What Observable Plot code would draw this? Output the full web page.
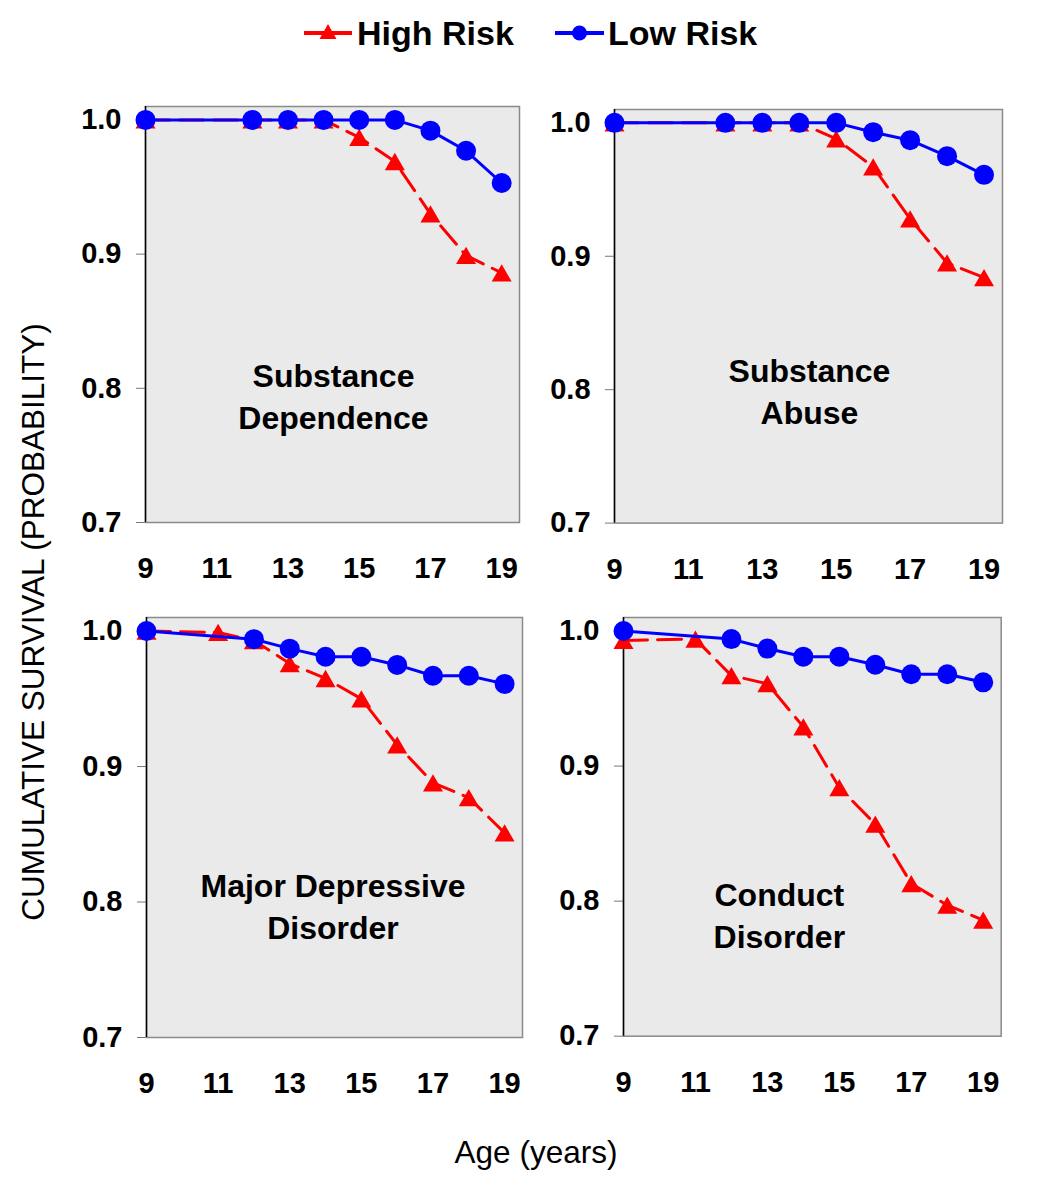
<!DOCTYPE html>
<html><head><meta charset="utf-8">
<script src="https://cdn.jsdelivr.net/npm/d3@7"></script>
<script src="https://cdn.jsdelivr.net/npm/@observablehq/plot@0.6"></script>
<style>
body{margin:0;background:#fff;}
#root{position:relative;width:1050px;height:1177px;font-family:"Liberation Sans",Arial,sans-serif;overflow:hidden;}
.abs{position:absolute;white-space:nowrap;}
</style></head><body><div id="root"></div>
<script>
// ---- data ----
const xTicks = [9, 11, 13, 15, 17, 19];
const yTicks = [0.7, 0.8, 0.9, 1.0];
const seriesNames = ["High Risk", "Low Risk"];
const panelTitles = ["Substance\nDependence", "Substance\nAbuse", "Major Depressive\nDisorder", "Conduct\nDisorder"];
const yAxisTitle = "CUMULATIVE SURVIVAL (PROBABILITY)";
const xAxisTitle = "Age (years)";

// Substance Dependence
const sdAgesHigh = [9, 12, 13, 14, 15, 16, 17, 18, 19];
const sdHigh     = [1.0, 1.0, 1.0, 1.0, 0.987, 0.969, 0.930, 0.899, 0.886];
const sdAgesLow  = [9, 12, 13, 14, 15, 16, 17, 18, 19];
const sdLow      = [1.0, 1.0, 1.0, 1.0, 1.0, 1.0, 0.992, 0.977, 0.953];
// Substance Abuse
const saAgesHigh = [9, 12, 13, 14, 15, 16, 17, 18, 19];
const saHigh     = [1.0, 1.0, 1.0, 1.0, 0.988, 0.967, 0.928, 0.895, 0.884];
const saAgesLow  = [9, 12, 13, 14, 15, 16, 17, 18, 19];
const saLow      = [1.0, 1.0, 1.0, 1.0, 1.0, 0.993, 0.987, 0.975, 0.961];
// Major Depressive Disorder
const mdAgesHigh = [9, 11, 12, 13, 14, 15, 16, 17, 18, 19];
const mdHigh     = [1.0, 0.999, 0.993, 0.976, 0.965, 0.950, 0.916, 0.888, 0.877, 0.851];
const mdAgesLow  = [9, 12, 13, 14, 15, 16, 17, 18, 19];
const mdLow      = [1.0, 0.994, 0.987, 0.981, 0.981, 0.975, 0.967, 0.967, 0.961];
// Conduct Disorder
const cdAgesHigh = [9, 11, 12, 13, 14, 15, 16, 17, 18, 19];
const cdHigh     = [0.993, 0.994, 0.967, 0.961, 0.929, 0.884, 0.857, 0.813, 0.797, 0.786];
const cdAgesLow  = [9, 12, 13, 14, 15, 16, 17, 18, 19];
const cdLow      = [1.0, 0.994, 0.987, 0.981, 0.981, 0.975, 0.968, 0.968, 0.962];

const highAges = [sdAgesHigh, saAgesHigh, mdAgesHigh, cdAgesHigh];
const highVals = [sdHigh, saHigh, mdHigh, cdHigh];
const lowAges  = [sdAgesLow, saAgesLow, mdAgesLow, cdAgesLow];
const lowVals  = [sdLow, saLow, mdLow, cdLow];

// ---- layout ----
const frames = [
  {l: 145, t: 106, r: 519, b: 522},
  {l: 614, t: 108.7, r: 1002, b: 522.3},
  {l: 145.7, t: 617.3, r: 521.7, b: 1037.3},
  {l: 623.3, t: 617.3, r: 1001, b: 1036}
];
const titleOffsets = [{dx: 1, dy: 80.5}, {dx: 1, dy: 73.5}, {dx: -1.5, dy: 77.5}, {dx: -33, dy: 86.5}];
const RED = "#ff0000", BLUE = "#0000ff";
const FONT = '"Liberation Sans", Arial, sans-serif';

// triangle centred on its bounding box
const triangle = {
  draw(ctx, size) {
    const r = Math.sqrt(size / Math.PI);
    const s = 2 * r, h = s * Math.sqrt(3) / 2;
    ctx.moveTo(0, -h / 2);
    ctx.lineTo(s / 2, h / 2);
    ctx.lineTo(-s / 2, h / 2);
    ctx.closePath();
  }
};

const root = document.getElementById("root");

frames.forEach((f, i) => {
  const ml = 100, mr = 30, mt = 20, mb = 70;
  const fw = f.r - f.l, fh = f.b - f.t;
  const high = highAges[i].map((a, j) => ({age: a, v: highVals[i][j], s: seriesNames[0]}));
  const low = lowAges[i].map((a, j) => ({age: a, v: lowVals[i][j], s: seriesNames[1]}));
  const svg = Plot.plot({
    width: ml + fw + mr, height: mt + fh + mb,
    marginLeft: ml, marginRight: mr, marginTop: mt, marginBottom: mb,
    style: {background: "transparent", overflow: "visible", fontFamily: FONT, fontSize: "29px", fontWeight: "bold", color: "#000"},
    x: {domain: [9, 19.5], ticks: xTicks, tickSize: 0, tickPadding: 35, label: null, tickFormat: d3.format("d")},
    y: {domain: [0.7, 1.01], ticks: yTicks, tickSize: 9, tickPadding: 15, label: null, tickFormat: d3.format(".1f")},
    marks: [
      Plot.frame({fill: "#eaeaea", stroke: "#8a8a8a", strokeWidth: 1.5}),
      Plot.ruleX([9], {stroke: "#000", strokeWidth: 1.5}),
      Plot.text([panelTitles[i]], {frameAnchor: "middle", dx: titleOffsets[i].dx, dy: titleOffsets[i].dy, fontSize: 32, fontWeight: "bold", lineHeight: 1.31, fill: "#000"}),
      Plot.line(high, {x: "age", y: "v", stroke: RED, strokeWidth: 3, strokeDasharray: "24,10"}),
      Plot.dot(high, {x: "age", y: "v", symbol: triangle, r: 10, fill: RED, stroke: "none"}),
      Plot.line(low, {x: "age", y: "v", stroke: BLUE, strokeWidth: 3}),
      Plot.dot(low, {x: "age", y: "v", r: 10, fill: BLUE, stroke: "none"})
    ]
  });
  svg.style.position = "absolute";
  svg.style.left = (f.l - ml) + "px";
  svg.style.top = (f.t - mt) + "px";
  svg.style.maxWidth = "none";
  // grey tick marks on the y axis
  svg.querySelectorAll('[aria-label^="y-axis"] line, [aria-label^="y-axis"] path').forEach(el => el.setAttribute("stroke", "#777"));
  root.appendChild(svg);
});

// legend
const leg = d3.create("svg").attr("width", 1050).attr("height", 70)
  .style("position", "absolute").style("left", "0px").style("top", "0px");
const legItems = [
  {name: seriesNames[0], color: RED, x0: 304, x1: 352, tx: 357, shape: "tri"},
  {name: seriesNames[1], color: BLUE, x0: 555, x1: 604, tx: 608, shape: "circle"}
];
legItems.forEach(it => {
  leg.append("line").attr("x1", it.x0).attr("x2", it.x1).attr("y1", 33).attr("y2", 33)
    .attr("stroke", it.color).attr("stroke-width", 4);
  const cx = (it.x0 + it.x1) / 2;
  if (it.shape === "tri") {
    leg.append("path").attr("d", `M${cx},${24}L${cx + 8.5},${39}L${cx - 8.5},${39}Z`).attr("fill", it.color);
  } else {
    leg.append("circle").attr("cx", cx).attr("cy", 33).attr("r", 7.5).attr("fill", it.color);
  }
  leg.append("text").attr("x", it.tx).attr("y", 45).text(it.name)
    .attr("font-family", FONT).attr("font-size", 34).attr("font-weight", "bold").attr("fill", "#000");
});
root.appendChild(leg.node());

// axis titles
const yt = document.createElement("div");
yt.className = "abs";
yt.textContent = yAxisTitle;
Object.assign(yt.style, {left: "33px", top: "622px", transform: "translate(-50%,-50%) rotate(-90deg)", fontSize: "31.5px", color: "#000"});
root.appendChild(yt);
const xt = document.createElement("div");
xt.className = "abs";
xt.textContent = xAxisTitle;
Object.assign(xt.style, {left: "536px", top: "1152px", transform: "translate(-50%,-50%)", fontSize: "31.5px", color: "#000"});
root.appendChild(xt);
</script></body></html>
